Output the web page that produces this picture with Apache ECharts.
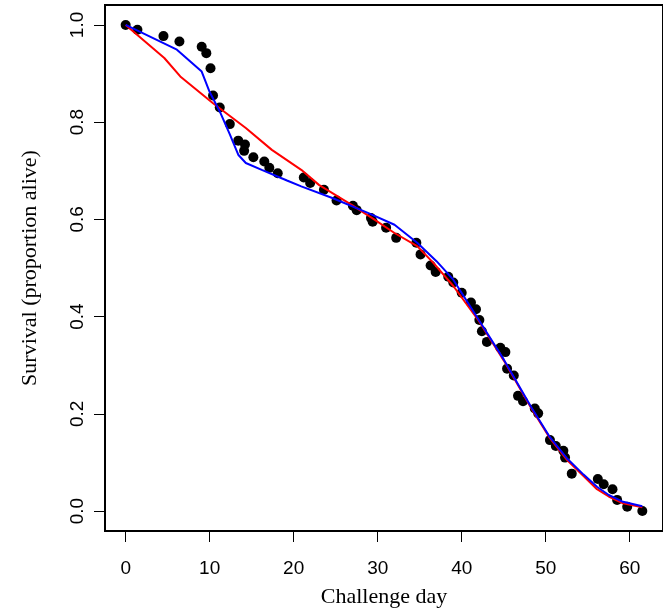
<!DOCTYPE html>
<html>
<head>
<meta charset="utf-8">
<script src="https://cdn.jsdelivr.net/npm/echarts@6/dist/echarts.min.js"></script>
<style>html,body{margin:0;padding:0;background:#fff;}#c{width:663px;height:613px;}</style>
</head>
<body>
<div id="c"></div>
<script>
const obsDays = [0,1.4,4.5,6.4,9.05,9.6,10.1,10.4,11.2,12.4,13.4,14.2,14.1,15.2,16.5,17.1,18.1,21.2,21.96,23.6,25.1,27.05,27.5,29.2,29.4,31.0,32.2,34.6,35.1,36.3,36.9,38.4,39.0,40.0,41.1,41.7,42.1,42.4,43.0,44.6,45.2,45.4,46.2,46.7,47.3,48.7,49.1,50.5,51.2,52.1,52.3,53.1,56.2,56.9,57.95,58.5,59.7,61.5];
const obsSurv = [1.0,0.990,0.977,0.966,0.955,0.942,0.911,0.855,0.830,0.796,0.762,0.754,0.741,0.728,0.719,0.706,0.695,0.686,0.675,0.661,0.639,0.628,0.619,0.603,0.595,0.583,0.562,0.552,0.528,0.505,0.492,0.482,0.470,0.449,0.429,0.415,0.393,0.370,0.348,0.336,0.327,0.293,0.279,0.237,0.226,0.211,0.201,0.146,0.134,0.124,0.110,0.077,0.066,0.055,0.045,0.023,0.009,0.0];

const redDays = [0,4.6,6.5,10.4,14.3,17.4,20.9,23.0,26.9,29.3,32.0,34.7,36.6,39.0,42.0,45.0,48.3,50.5,52.6,54.5,56.1,57.5,59.2,61.5];
const redSurv = [1.0,0.932,0.894,0.839,0.788,0.743,0.702,0.671,0.630,0.603,0.572,0.545,0.511,0.463,0.392,0.310,0.211,0.150,0.104,0.072,0.045,0.030,0.016,0.008];

const blueDays = [0,6.1,9.05,10.0,11.2,12.4,13.4,14.3,16.2,19.2,20.9,24.6,28.9,32.0,34.7,37.0,39.0,42.0,45.0,48.3,50.5,52.6,54.5,56.1,57.5,59.2,61.5];
const blueSurv = [1.0,0.949,0.904,0.862,0.822,0.775,0.733,0.716,0.702,0.680,0.668,0.644,0.613,0.589,0.552,0.514,0.476,0.394,0.312,0.213,0.152,0.107,0.075,0.050,0.033,0.019,0.010];

const xTicks = [0,10,20,30,40,50,60];
const yTicks = [0,0.2,0.4,0.6,0.8,1.0];

function pairs(a,b){return a.map((v,i)=>[v,b[i]]);}

const chart = echarts.init(document.getElementById('c'), null, {renderer:'canvas'});
chart.setOption({
  animation:false,
  backgroundColor:'#fff',
  grid:{left:105,top:5,right:-11,bottom:81,show:true,borderColor:'#000',borderWidth:2,backgroundColor:'transparent'},
  xAxis:{
    type:'value',min:-2.46,max:63.96,
    splitLine:{show:false},
    axisLine:{show:false,onZero:false},
    axisTick:{show:true,inside:false,length:11,lineStyle:{color:'#000',width:1},customValues:xTicks},
    axisLabel:{margin:28,fontFamily:'Liberation Sans',fontSize:19,color:'#000',customValues:xTicks,formatter:v=>String(v)},
    name:'Challenge day',nameLocation:'middle',nameGap:55,
    nameTextStyle:{fontFamily:'Liberation Serif',fontSize:22,color:'#000'}
  },
  yAxis:{
    type:'value',min:-0.041,max:1.041,
    splitLine:{show:false},
    axisLine:{show:false,onZero:false},
    axisTick:{show:true,inside:false,length:11,lineStyle:{color:'#000',width:1},customValues:yTicks},
    axisLabel:{margin:18,rotate:90,fontFamily:'Liberation Sans',fontSize:19,color:'#000',customValues:yTicks,formatter:v=>v.toFixed(1)},
    name:'Survival (proportion alive)',nameLocation:'middle',nameGap:64,nameRotate:90,
    nameTextStyle:{fontFamily:'Liberation Serif',fontSize:22,color:'#000'}
  },
  series:[
    {type:'scatter',data:pairs(obsDays,obsSurv),symbol:'circle',symbolSize:10,itemStyle:{color:'#000',opacity:1},z:2},
    {type:'line',data:pairs(redDays,redSurv),showSymbol:false,symbol:'none',lineStyle:{color:'#ff0000',width:2},z:3},
    {type:'line',data:pairs(blueDays,blueSurv),showSymbol:false,symbol:'none',lineStyle:{color:'#0000ff',width:2},z:4}
  ]
});
</script>
</body>
</html>
